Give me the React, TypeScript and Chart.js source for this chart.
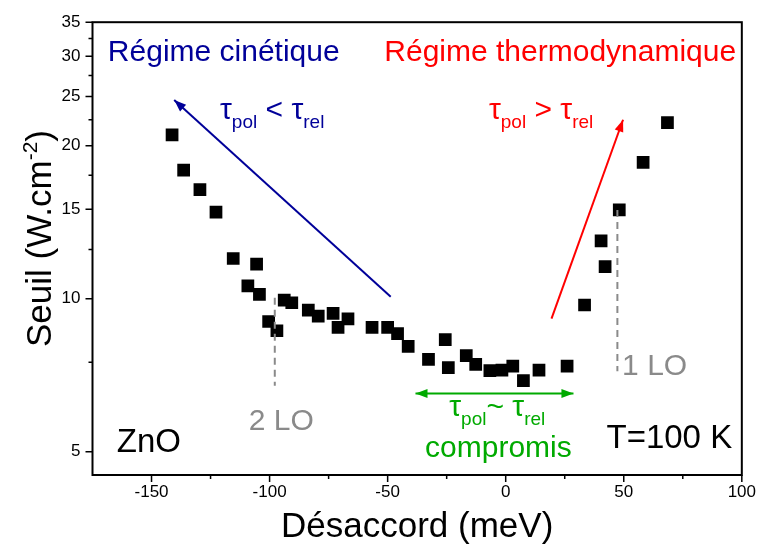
import React, { useEffect, useRef } from "react";
import { Chart, registerables } from "chart.js";

Chart.register(...registerables);

const FONT = "'Liberation Sans', Arial, sans-serif";

// Data: detuning (meV) and threshold (W.cm^-2)
const detuning = [
  -141.3, -136.4, -129.5, -122.7, -115.4, -105.5, -109.2, -104.3, -93.8, -90.6,
  -100.4, -96.9, -83.6, -79.4, -73.1, -66.8, -71.0, -56.6, -50.0, -45.8,
  -41.3, -32.7, -25.6, -24.3, -16.7, -12.7, -6.7, -1.6, 3.0, 7.5,
  14.1, 26.0, 33.4, 40.4, 42.1, 48.1, 58.2, 68.5,
];
const threshold = [
  21.0, 17.9, 16.4, 14.8, 12.0, 11.7, 10.6, 10.2, 9.94, 9.82,
  9.02, 8.65, 9.5, 9.24, 9.36, 9.13, 8.78, 8.78, 8.78, 8.54,
  8.06, 7.6, 8.31, 7.32, 7.73, 7.43, 7.22, 7.24, 7.37, 6.9,
  7.24, 7.37, 9.72, 13.0, 11.57, 14.96, 18.55, 22.2,
];

const xMajorTicks = [-150, -100, -50, 0, 50, 100];
const xMinorTicks = [-125, -75, -25, 25, 75];
const yMajorTicks = [5, 10, 15, 20, 25, 30, 35];
const yMinorTicks = [7.5, 12.5, 17.5, 22.5, 27.5, 32.5];

// phonon replica markers: [x, yFrom, yTo]
const loLines = [
  [-97.8, 6.74, 10.05],
  [47.3, 7.2, 14.95],
];
// arrows: [x1, y1, x2, y2, color, doubleHead]
const arrows: [number, number, number, number, string, boolean][] = [
  [-48.7, 10.09, -140.4, 24.6, "#000099", false],
  [19.4, 9.14, 49.7, 22.5, "#ff0000", false],
  [-38.2, 6.51, 28.7, 6.51, "#00aa00", true],
];

type Seg = { t: string; sub?: boolean };
const tauLess: Seg[] = [{ t: "τ" }, { t: "pol", sub: true }, { t: " < τ" }, { t: "rel", sub: true }];
const tauMore: Seg[] = [{ t: "τ" }, { t: "pol", sub: true }, { t: " > τ" }, { t: "rel", sub: true }];
const tauSim: Seg[] = [{ t: "τ" }, { t: "pol", sub: true }, { t: "~ τ" }, { t: "rel", sub: true }];

// text labels: [text, x, y(baseline), align, color, size]
const labels: [string, number, number, CanvasTextAlign, string, number][] = [
  ["Régime cinétique", -168.5, 29.3, "left", "#000099", 30],
  ["Régime thermodynamique", 97.6, 29.3, "right", "#ff0000", 30],
  ["compromis", -3.1, 4.88, "center", "#00aa00", 30],
  ["ZnO", -164.7, 4.99, "left", "#000000", 33],
  ["T=100 K", 95.9, 5.08, "right", "#000000", 33],
  ["2 LO", -108.8, 5.51, "left", "#8a8a8a", 30],
  ["1 LO", 49.3, 7.08, "left", "#8a8a8a", 30],
];
const richLabels: [Seg[], number, number, string][] = [
  [tauLess, -121.0, 22.6, "#000099"],
  [tauMore, -7.1, 22.6, "#ff0000"],
  [tauSim, -23.9, 5.87, "#00aa00"],
];

function drawArrowHead(ctx: CanvasRenderingContext2D, x1: number, y1: number, x2: number, y2: number) {
  const a = Math.atan2(y2 - y1, x2 - x1);
  const L = 12, W = 4.5;
  ctx.beginPath();
  ctx.moveTo(x2, y2);
  ctx.lineTo(x2 - L * Math.cos(a) + W * Math.sin(a), y2 - L * Math.sin(a) - W * Math.cos(a));
  ctx.lineTo(x2 - L * Math.cos(a) - W * Math.sin(a), y2 - L * Math.sin(a) + W * Math.cos(a));
  ctx.closePath();
  ctx.fill();
}

const decorPlugin = {
  id: "decor",
  afterDatasetsDraw(chart: any) {
    const ctx: CanvasRenderingContext2D = chart.ctx;
    const xs = chart.scales.x;
    const ys = chart.scales.y;
    const { left, right, top, bottom } = chart.chartArea;
    ctx.save();
    // frame
    ctx.strokeStyle = "#000";
    ctx.lineWidth = 2;
    ctx.strokeRect(left, top, right - left, bottom - top);
    // ticks
    ctx.lineWidth = 1.5;
    ctx.beginPath();
    xMajorTicks.forEach((v) => {
      const p = xs.getPixelForValue(v);
      ctx.moveTo(p, bottom);
      ctx.lineTo(p, bottom + 7);
    });
    xMinorTicks.forEach((v) => {
      const p = xs.getPixelForValue(v);
      ctx.moveTo(p, bottom);
      ctx.lineTo(p, bottom + 4);
    });
    yMajorTicks.forEach((v) => {
      const p = ys.getPixelForValue(v);
      ctx.moveTo(left, p);
      ctx.lineTo(left - 7, p);
    });
    yMinorTicks.forEach((v) => {
      const p = ys.getPixelForValue(v);
      ctx.moveTo(left, p);
      ctx.lineTo(left - 4, p);
    });
    ctx.stroke();

    // LO dashed lines
    ctx.strokeStyle = "#8a8a8a";
    ctx.lineWidth = 2;
    ctx.setLineDash([7, 5]);
    loLines.forEach(([x, y0, y1]) => {
      const px = xs.getPixelForValue(x);
      ctx.beginPath();
      ctx.moveTo(px, ys.getPixelForValue(y1));
      ctx.lineTo(px, ys.getPixelForValue(y0));
      ctx.stroke();
    });
    ctx.setLineDash([]);

    // arrows
    arrows.forEach(([ax1, ay1, ax2, ay2, color, dbl]) => {
      const x1 = xs.getPixelForValue(ax1), y1 = ys.getPixelForValue(ay1);
      const x2 = xs.getPixelForValue(ax2), y2 = ys.getPixelForValue(ay2);
      ctx.strokeStyle = color;
      ctx.fillStyle = color;
      ctx.lineWidth = 2;
      ctx.beginPath();
      ctx.moveTo(x1, y1);
      ctx.lineTo(x2, y2);
      ctx.stroke();
      drawArrowHead(ctx, x1, y1, x2, y2);
      if (dbl) drawArrowHead(ctx, x2, y2, x1, y1);
    });

    // labels
    ctx.textBaseline = "alphabetic";
    labels.forEach(([t, x, y, align, color, size]) => {
      ctx.font = `${size}px ${FONT}`;
      ctx.fillStyle = color;
      ctx.textAlign = align;
      ctx.fillText(t, xs.getPixelForValue(x), ys.getPixelForValue(y));
    });
    ctx.textAlign = "left";
    richLabels.forEach(([segs, x, y, color]) => {
      let px = xs.getPixelForValue(x);
      const py = ys.getPixelForValue(y);
      ctx.fillStyle = color;
      segs.forEach((s) => {
        ctx.font = `${s.sub ? 19 : 30}px ${FONT}`;
        ctx.fillText(s.t, px, py + (s.sub ? 9 : 0));
        px += ctx.measureText(s.t).width;
      });
    });

    // axis titles
    ctx.fillStyle = "#000";
    ctx.font = `35px ${FONT}`;
    ctx.textAlign = "center";
    ctx.fillText("Désaccord (meV)", (left + right) / 2, 537);

    ctx.save();
    ctx.translate(51, 347);
    ctx.rotate(-Math.PI / 2);
    ctx.textAlign = "left";
    let cx = 0;
    const parts: [string, number, number][] = [
      ["Seuil (W.cm", 35, 0],
      ["-2", 21, -14],
      [")", 35, 0],
    ];
    parts.forEach(([t, s, dy]) => {
      ctx.font = `${s}px ${FONT}`;
      ctx.fillText(t, cx, dy);
      cx += ctx.measureText(t).width;
    });
    ctx.restore();

    ctx.restore();
  },
};

export default function App() {
  const ref = useRef<HTMLCanvasElement>(null);
  useEffect(() => {
    if (!ref.current) return;
    const chart = new Chart(ref.current, {
      type: "scatter",
      data: {
        datasets: [
          {
            data: detuning.map((x, i) => ({ x, y: threshold[i] })),
            pointStyle: "rect",
            pointRadius: 9,
            pointHoverRadius: 9,
            backgroundColor: "#000",
            borderWidth: 0,
          },
        ],
      },
      options: {
        responsive: false,
        animation: false,
        devicePixelRatio: 1,
        layout: { padding: { top: 17, right: 16, left: 0, bottom: 0 } },
        plugins: { legend: { display: false }, tooltip: { enabled: false } },
        scales: {
          x: {
            type: "linear",
            min: -175,
            max: 100,
            afterBuildTicks: (s: any) => {
              s.ticks = xMajorTicks.map((v) => ({ value: v }));
            },
            afterFit: (s: any) => {
              s.height = 77;
            },
            ticks: {
              font: { size: 17, family: FONT },
              color: "#000",
              padding: 7,
              maxRotation: 0,
              autoSkip: false,
              callback: (v: any) => String(v),
            },
            grid: { display: false, drawTicks: false },
            border: { display: false },
          },
          y: {
            type: "logarithmic",
            min: 4.5,
            max: 35,
            afterBuildTicks: (s: any) => {
              s.ticks = yMajorTicks.map((v) => ({ value: v }));
            },
            afterFit: (s: any) => {
              s.width = 92.5;
            },
            ticks: {
              font: { size: 17, family: FONT },
              color: "#000",
              padding: 12,
              autoSkip: false,
              callback: (v: any) => String(v),
            },
            grid: { display: false, drawTicks: false },
            border: { display: false },
          },
        },
      },
      plugins: [decorPlugin],
    });
    return () => chart.destroy();
  }, []);
  return (
    <div style={{ position: "fixed", left: 0, top: 0, width: 763, height: 552, background: "#fff" }}>
      <canvas ref={ref} width={763} height={552} style={{ display: "block" }} />
    </div>
  );
}
